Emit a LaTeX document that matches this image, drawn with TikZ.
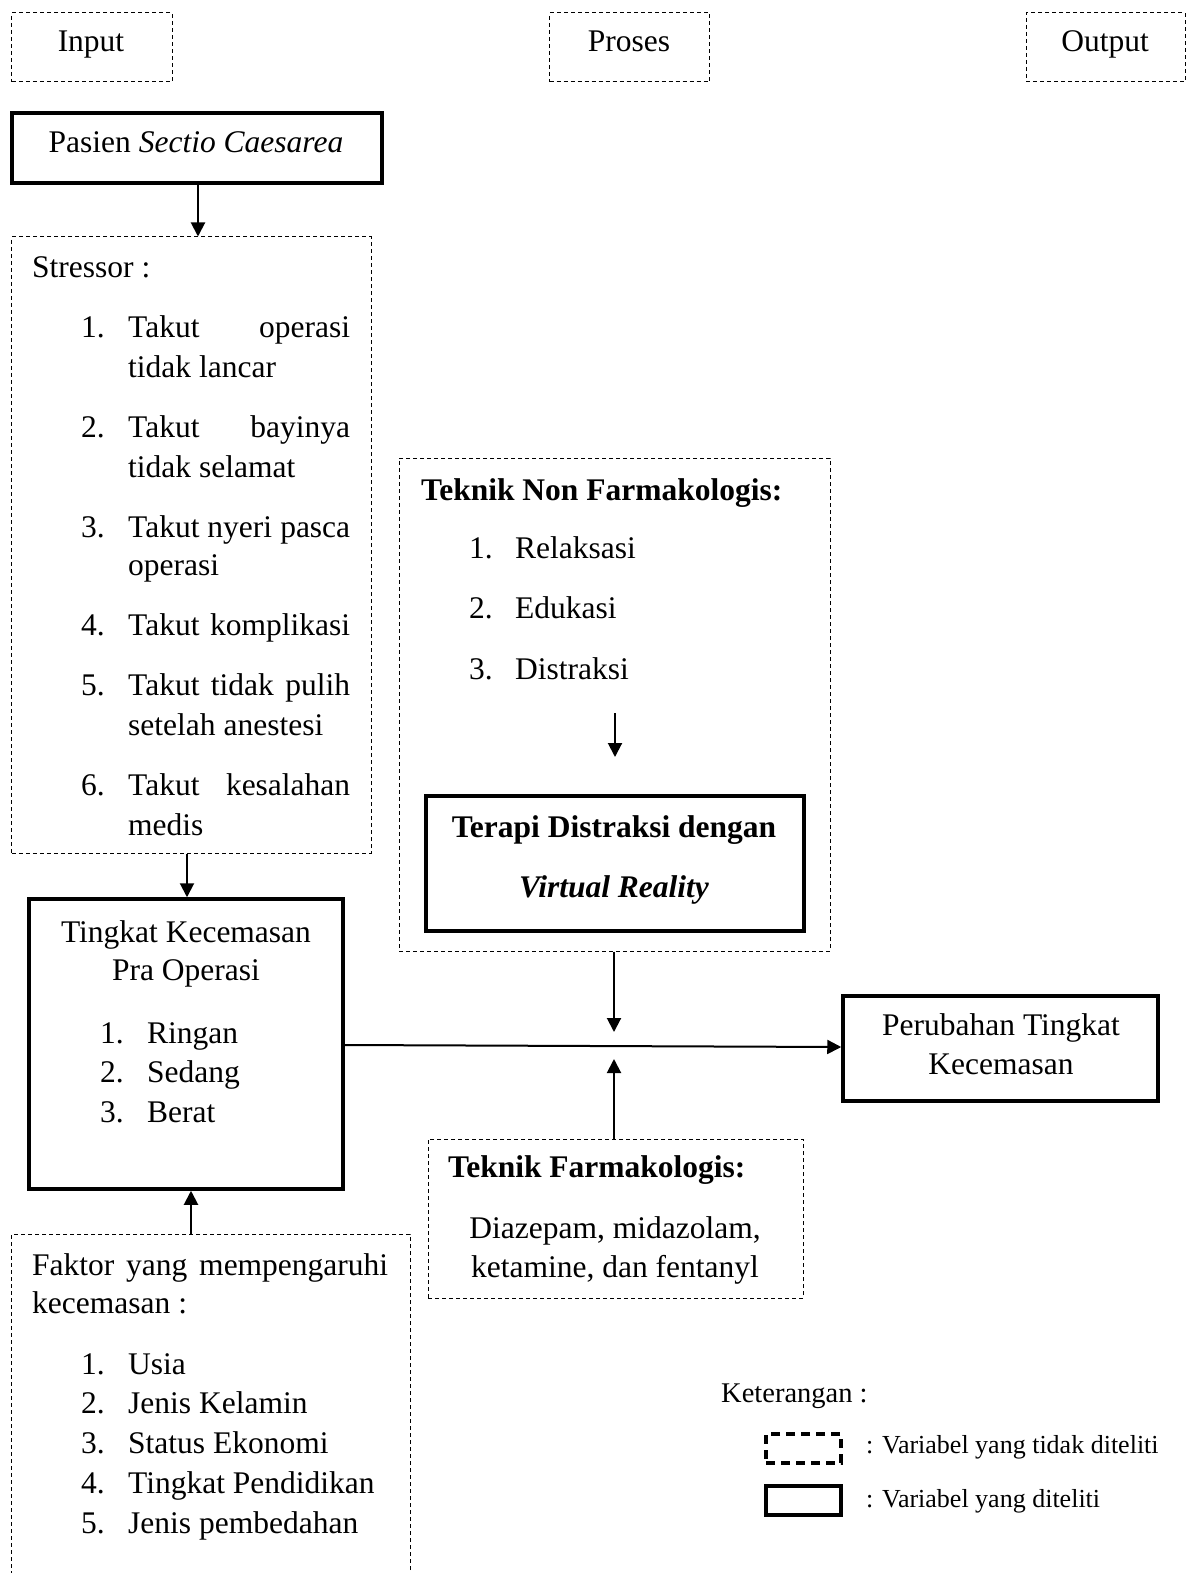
\documentclass[tikz,border=0pt]{standalone}
\usepackage{fontspec}
\setmainfont{Liberation Serif}
\usetikzlibrary{arrows.meta,calc}
\newcommand{\mainsz}{\fontsize{31.5bp}{40bp}\selectfont}
\newcommand{\legsz}{\fontsize{26bp}{30bp}\selectfont}
\newcommand{\ketsz}{\fontsize{28.5bp}{32bp}\selectfont}
\begin{document}
\begin{tikzpicture}[x=1bp,y=-1bp,
  txt/.style={inner sep=0pt,anchor=base west,font=\mainsz},
  ctxt/.style={inner sep=0pt,anchor=base,font=\mainsz},
  dbox/.style={draw,line width=1bp,dash pattern=on 4bp off 3bp,inner sep=0pt},
  sbox/.style={draw,line width=3.5bp,inner sep=0pt},
  arr/.style={line width=2bp,-{Triangle[length=14bp,width=14bp]}}]
\useasboundingbox[fill=white] (0,0) rectangle (1195,1573);
\clip (0,0) rectangle (1195,1573);

% header boxes
\node[dbox,minimum width=160bp,minimum height=69bp] (input) at (92,47.5) {};
\node[dbox,minimum width=160bp,minimum height=69bp] (proses) at (629.5,47.5) {};
\node[dbox,minimum width=159bp,minimum height=69bp] (output) at (1105.5,47.5) {};
\node[ctxt] (tinput) at (91,52) {Input};
\node[ctxt] (tproses) at (629,52) {Proses};
\node[ctxt] (toutput) at (1105,52) {Output};

% Pasien
\node[sbox,minimum width=370bp,minimum height=70bp] (pasien) at (197,148) {};
\node[ctxt] (tpasien) at (196,153) {Pasien \textit{Sectio Caesarea}};

% Stressor
\node[dbox,minimum width=359bp,minimum height=616bp] (stressor) at (191.5,545) {};
\node[txt] (st0) at (32,277) {Stressor :};
\node[txt] (s1n) at (81,337) {1.};
\node[txt] (s1a) at (128,337) {\makebox[222bp][s]{Takut operasi}};
\node[txt] (s1b) at (128,377) {tidak lancar};
\node[txt] (s2n) at (81,437) {2.};
\node[txt] (s2a) at (128,437) {\makebox[222bp][s]{Takut bayinya}};
\node[txt] (s2b) at (128,477) {tidak selamat};
\node[txt] (s3n) at (81,537) {3.};
\node[txt] (s3a) at (128,537) {\makebox[222bp][s]{Takut nyeri pasca}};
\node[txt] (s3b) at (128,575) {operasi};
\node[txt] (s4n) at (81,635) {4.};
\node[txt] (s4a) at (128,635) {\makebox[222bp][s]{Takut komplikasi}};
\node[txt] (s5n) at (81,695) {5.};
\node[txt] (s5a) at (128,695) {\makebox[222bp][s]{Takut tidak pulih}};
\node[txt] (s5b) at (128,735) {setelah anestesi};
\node[txt] (s6n) at (81,795) {6.};
\node[txt] (s6a) at (128,795) {\makebox[222bp][s]{Takut kesalahan}};
\node[txt] (s6b) at (128,835) {medis};

% Tingkat
\node[sbox,minimum width=314bp,minimum height=290bp] (tingkat) at (186,1044) {};
\node[ctxt] (tk1) at (186,942) {Tingkat Kecemasan};
\node[ctxt] (tk2) at (186,980) {Pra Operasi};
\node[txt] (tk3n) at (100,1043) {1.};
\node[txt] (tk3) at (147,1043) {Ringan};
\node[txt] (tk4n) at (100,1082) {2.};
\node[txt] (tk4) at (147,1082) {Sedang};
\node[txt] (tk5n) at (100,1122) {3.};
\node[txt] (tk5) at (147,1122) {Berat};

% Faktor
\node[dbox,minimum width=398bp,minimum height=386bp] (faktor) at (211,1427) {};
\node[txt] (f0) at (32,1275) {\makebox[356bp][s]{Faktor yang mempengaruhi}};
\node[txt] (f0b) at (32,1313) {kecemasan :};
\node[txt] (f1n) at (81,1374) {1.};
\node[txt] (f1) at (128,1374) {Usia};
\node[txt] (f2n) at (81,1413) {2.};
\node[txt] (f2) at (128,1413) {Jenis Kelamin};
\node[txt] (f3n) at (81,1453) {3.};
\node[txt] (f3) at (128,1453) {Status Ekonomi};
\node[txt] (f4n) at (81,1493) {4.};
\node[txt] (f4) at (128,1493) {Tingkat Pendidikan};
\node[txt] (f5n) at (81,1533) {5.};
\node[txt] (f5) at (128,1533) {Jenis pembedahan};

% Teknik Non Farmakologis
\node[dbox,minimum width=431bp,minimum height=493bp] (tnon) at (614.5,704.5) {};
\node[txt,font=\mainsz\bfseries] (tn0) at (421,500) {Teknik Non Farmakologis:};
\node[txt] (tn1n) at (469,558) {1.};
\node[txt] (tn1) at (515,558) {Relaksasi};
\node[txt] (tn2n) at (469,618) {2.};
\node[txt] (tn2) at (515,618) {Edukasi};
\node[txt] (tn3n) at (469,679) {3.};
\node[txt] (tn3) at (515,679) {Distraksi};
\coordinate (sa1) at (615,713);
\coordinate (sa2) at (615,757);

% Terapi
\node[sbox,minimum width=378bp,minimum height=135bp] (terapi) at (615,863.5) {};
\node[ctxt,font=\mainsz\bfseries] (tr1) at (614,837) {Terapi Distraksi dengan};
\node[ctxt,font=\mainsz\bfseries\itshape] (tr2) at (614,897) {Virtual Reality};

% Farmakologis
\node[dbox,minimum width=375bp,minimum height=159bp] (farm) at (615.5,1218.5) {};
\node[txt,font=\mainsz\bfseries] (fm0) at (448,1177) {Teknik Farmakologis:};
\node[ctxt] (fm1) at (615,1238) {Diazepam, midazolam,};
\node[ctxt] (fm2) at (615,1277) {ketamine, dan fentanyl};

% Perubahan
\node[sbox,minimum width=315bp,minimum height=105bp] (perub) at (1000.5,1048.5) {};
\node[ctxt] (pb1) at (1001,1035) {Perubahan Tingkat};
\node[ctxt] (pb2) at (1001,1074) {Kecemasan};

% junction points
\coordinate (jdown) at (614,1032);
\coordinate (jup) at (614,1059);

% connectors
\draw[arr] ([xshift=1bp]pasien.south) -- ([xshift=1bp]pasien.south |- stressor.north);
\draw[arr] ([xshift=-4.5bp]stressor.south) -- ([xshift=-4.5bp]stressor.south |- tingkat.north);
\draw[arr] ([xshift=-20bp]faktor.north) -- ([xshift=-20bp]faktor.north |- tingkat.south);
\draw[arr] ([yshift=-1bp]tingkat.east) -- ([yshift=1.5bp]perub.west);
\draw[arr] (tnon.south -| jdown) -- (jdown);
\draw[arr] (farm.north -| jup) -- (jup);
\draw[arr] (sa1) -- (sa2);

% legend
\node[inner sep=0pt,anchor=base west,font=\ketsz] (ket) at (721,1402) {Keterangan :};
\node[draw,line width=3.5bp,dash pattern=on 9bp off 6bp,minimum width=75bp,minimum height=29bp,inner sep=0pt] (legd) at (803.5,1448.5) {};
\node[draw,line width=3.5bp,minimum width=75bp,minimum height=29bp,inner sep=0pt] (legs) at (803.5,1500.5) {};
\node[inner sep=0pt,anchor=base west,font=\legsz] (legdt) at (866,1453) {: Variabel yang tidak diteliti};
\node[inner sep=0pt,anchor=base west,font=\legsz] (legst) at (866,1507) {: Variabel yang diteliti};
\end{tikzpicture}
\end{document}
